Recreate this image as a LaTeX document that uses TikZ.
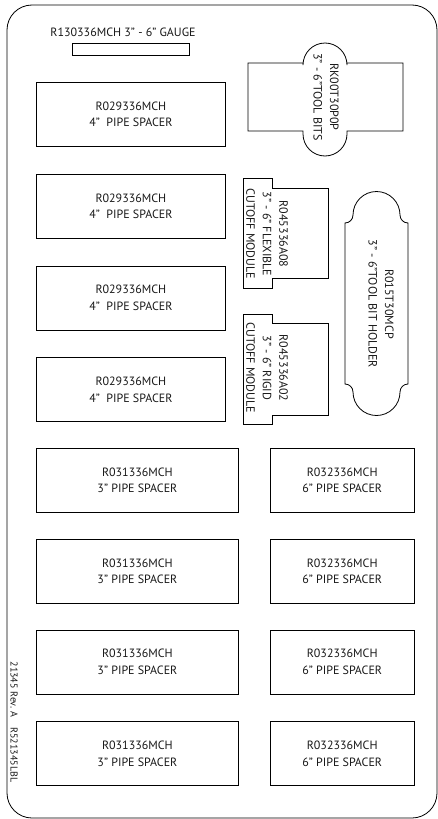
\documentclass[tikz,border=0pt]{standalone}
\usepackage{fontspec}
\setmainfont{PT Sans}
\usetikzlibrary{positioning}
\newcommand\lblfont{\fontsize{12}{16.5}\selectfont}
\newcommand\smallfont{\fontsize{10}{12}\selectfont}
\tikzset{
  fourspacer/.style={draw, align=center, minimum width=189pt, minimum height=64pt, inner sep=0pt},
  threespacer/.style={fourspacer, minimum width=202pt},
  sixspacer/.style={fourspacer, minimum width=144pt},
  upright/.style={rotate=-90, align=center}
}

\begin{document}
\begin{tikzpicture}[x=1pt, y=-1pt, line width=0.8pt,
    every node/.style={font=\lblfont, text=black!90}]
    \useasboundingbox (0,0) rectangle (438,819);
    % tray outline
    \draw[rounded corners=25pt] (7,5) rectangle (437,818);

    % gauge
    \node (gaugelbl) at (123,32) {R130336MCH 3” - 6” GAUGE};
    \node[draw, minimum width=117pt, minimum height=12pt, inner sep=0pt]
      (gauge) at (130.5,49) {};

    % 4" spacers
    \node[fourspacer, anchor=north west] (sp4a) at (36,82)
      {R029336MCH\\4”\ \ PIPE SPACER};
    \node[fourspacer, below=27pt of sp4a] (sp4b) {R029336MCH\\4”\ \ PIPE SPACER};
    \node[fourspacer, below=27pt of sp4b] (sp4c) {R029336MCH\\4”\ \ PIPE SPACER};
    \node[fourspacer, below=27pt of sp4c] (sp4d) {R029336MCH\\4”\ \ PIPE SPACER};

    % 3" and 6" spacers
    \node[threespacer, anchor=north west] (sp3a) at (36,448)
      {R031336MCH\\3” PIPE SPACER};
    \node[threespacer, below=26pt of sp3a] (sp3b) {R031336MCH\\3” PIPE SPACER};
    \node[threespacer, below=26pt of sp3b] (sp3c) {R031336MCH\\3” PIPE SPACER};
    \node[threespacer, below=27pt of sp3c] (sp3d) {R031336MCH\\3” PIPE SPACER};
    \node[sixspacer, right=31pt of sp3a] (sp6a) {R032336MCH\\6” PIPE SPACER};
    \node[sixspacer, right=31pt of sp3b] (sp6b) {R032336MCH\\6” PIPE SPACER};
    \node[sixspacer, right=31pt of sp3c] (sp6c) {R032336MCH\\6” PIPE SPACER};
    \node[sixspacer, right=31pt of sp3d] (sp6d) {R032336MCH\\6” PIPE SPACER};

    % tool bits
    \draw (248,63) -- (303,63) -- (303,65)
      arc[start angle=180, end angle=0, radius=22pt] -- (347,63) -- (403,63)
      -- (403,131) -- (347,131) -- (347,134)
      arc[start angle=0, end angle=-180, radius=22pt] -- (303,131)
      -- (248,131) -- cycle;
    \node[upright] (bitslbl) at (326,97) {RK00T30P0P\\3” - 6”TOOL BITS};

    % cutoff modules
    \draw (243,178) -- (272,178) -- (272,188) -- (328,188) -- (328,278)
      -- (272,278) -- (272,288) -- (243,288) -- cycle;
    \node[upright] (flexlbl) at (267,234)
      {R045336A08\\3” - 6” FLEXIBLE\\CUTOFF MODULE};
    \draw (243,314) -- (272,314) -- (272,323) -- (328,323) -- (328,415)
      -- (272,415) -- (272,424) -- (243,424) -- cycle;
    \node[upright] (rigidlbl) at (267,368)
      {R045336A02\\3” - 6” RIGID\\CUTOFF MODULE};

    % tool bit holder
    \draw (345,223) arc[start angle=-90, end angle=0, radius=8pt]
      arc[start angle=180, end angle=0, radius=23.5pt]
      arc[start angle=180, end angle=270, radius=8pt] -- (408,384)
      arc[start angle=90, end angle=180, radius=8pt]
      arc[start angle=0, end angle=-180, radius=23.5pt]
      arc[start angle=0, end angle=90, radius=8pt] -- cycle;
    \node[upright] (holderlbl) at (381,304) {R015T30MCP\\3” - 6”TOOL BIT HOLDER};

    % part number
    \node[upright, font=\smallfont] (partno) at (14,722)
      {21345 Rev. A\quad R521345LBL};
\end{tikzpicture}
\end{document}
